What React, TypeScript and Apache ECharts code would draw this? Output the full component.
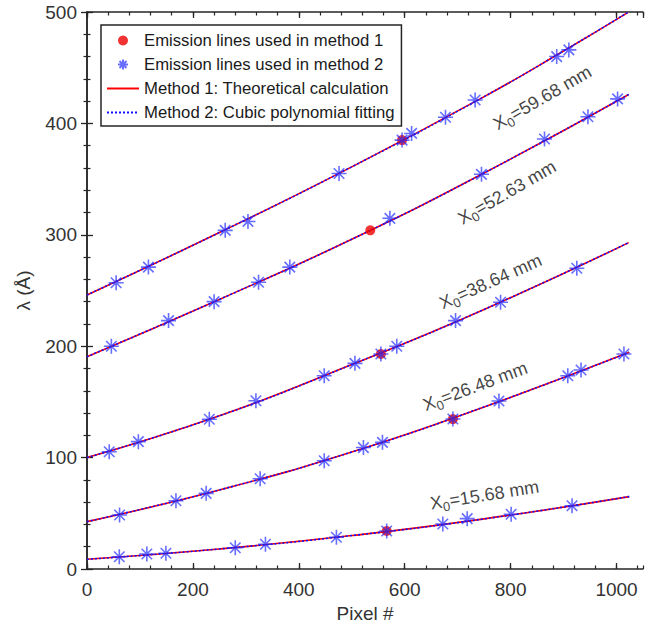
import React, { useEffect, useRef } from "react";
import * as echarts from "echarts";

// ---- data ----
const curveValues = ["59.68", "52.63", "38.64", "26.48", "15.68"];

// theoretical / fitted curves (pixel, wavelength)
const line59 = [[0, 246], [250, 302], [500, 361], [750, 424], [900, 465], [1021, 499.5]];
const line52 = [[0, 190.6], [250, 242], [500, 296], [750, 355.5], [1023, 426]];
const line38 = [[0, 100], [250, 137.5], [500, 183.5], [750, 233], [1023, 293]];
const line26 = [[0, 42.5], [250, 71], [500, 105], [750, 145.5], [1024, 194.5]];
const line15 = [[0, 8.7], [250, 18], [500, 30], [750, 45], [1024, 65]];

// emission lines used in method 2 (blue stars)
const stars59 = [[55, 257], [116, 271], [261, 304], [304, 312], [476, 355], [595, 385], [613, 391], [677, 405.5], [733, 421], [887, 460], [910, 466]];
const stars52 = [[46, 200], [154, 223], [240, 240], [324, 257.4], [383, 271], [572, 314.8], [745, 354.3], [864, 386], [946, 406], [1002, 422]];
const stars38 = [[42, 105.3], [97, 114.3], [231, 134.4], [319, 151], [448, 173.5], [506, 184.6], [555, 193], [585, 200], [696, 223], [781, 239.5], [925, 270]];
const stars26 = [[61.5, 48.5], [168, 61.3], [225, 67.9], [327, 81], [448, 97.2], [522, 109], [558, 113.7], [691, 134.6], [778, 150.8], [908, 173.5], [933, 178.6], [1014, 193]];
const stars15 = [[61, 11], [113, 13.5], [149, 14.1], [280, 19.1], [337, 22.2], [471, 28.5], [566, 34.1], [672, 40.4], [718, 45.2], [801, 49.1], [916, 56.8]];

// emission lines used in method 1 (red dots)
const method1Points = [[595, 385], [535, 304], [555, 193], [691, 134.6], [566, 34.1]];

// annotation anchor (data coords) and angle
const annotPos = [[860, 423], [793, 338], [762, 258], [733, 164], [751, 66.4]];
const annotAngle = [30, 30, 24, 20.5, 9];

const xTicks = ["0", "200", "400", "600", "800", "1000"];
const yTicks = ["0", "100", "200", "300", "400", "500"];

const NAME_M1 = "Emission lines used in method 1";
const NAME_M2 = "Emission lines used in method 2";
const NAME_L1 = "Method 1: Theoretical calculation";
const NAME_L2 = "Method 2: Cubic polynomial fitting";

const FONT = "'Liberation Sans', Arial, Helvetica, sans-serif";
const AX = "#262626";
const STAR = "path://M10,0L10,20M0,10L20,10M3,3L17,17M3,17L17,3";

export default function App() {
  const ref = useRef<HTMLDivElement>(null);
  useEffect(() => {
    if (!ref.current) return;
    const chart = echarts.init(ref.current, undefined, { renderer: "svg" });
    const lines = [line59, line52, line38, line26, line15];
    const stars = [stars59, stars52, stars38, stars26, stars15];

    const series: any[] = [];
    lines.forEach((l) => {
      series.push({
        type: "line", name: NAME_L1, data: l, smooth: true, symbol: "none", z: 2,
        xAxisIndex: 0, yAxisIndex: 0,
        lineStyle: { color: "#ff0000", width: 1.6 }, itemStyle: { color: "#ff0000" },
      });
    });
    lines.forEach((l) => {
      series.push({
        type: "line", name: NAME_L2, data: l, smooth: true, symbol: "none", z: 3,
        xAxisIndex: 0, yAxisIndex: 0,
        lineStyle: { color: "#1010ff", width: 1.6, type: [2, 2] }, itemStyle: { color: "#1010ff" },
      });
    });
    series.push({
      type: "scatter", name: NAME_M1, data: method1Points, symbol: "circle", symbolSize: 10, z: 4,
      itemStyle: { color: "#ee0000" },
    });
    stars.forEach((s) => {
      series.push({
        type: "scatter", name: NAME_M2, data: s, symbol: STAR, symbolSize: 15, z: 5,
        itemStyle: { color: "rgba(0,0,0,0)", borderColor: "rgba(30,40,255,0.85)", borderWidth: 1.6 },
      });
    });
    series.push({
      type: "scatter", name: "annot", symbolSize: 0, z: 6, silent: true,
      data: annotPos.map((p, i) => ({
        value: p,
        label: {
          show: true, position: "inside", rotate: annotAngle[i],
          formatter: "{a|X}{b|0}{a|=" + curveValues[i] + " mm}",
        },
      })),
      label: {
        show: true, position: "inside", color: "#111",
        rich: {
          a: { fontSize: 18, fontFamily: FONT, color: "#111" },
          b: { fontSize: 13, fontFamily: FONT, color: "#111", padding: [11, 0, 0, 0] },
        },
      },
    });

    const common = { min: 0, max: 1050, type: "value" as const, splitLine: { show: false } };
    chart.setOption({
      animation: false,
      backgroundColor: "#fff",
      textStyle: { fontFamily: FONT },
      grid: { left: 87, right: 13, top: 12, bottom: 66, containLabel: false },
      legend: {
        data: [
          { name: NAME_M1 },
          { name: NAME_M2 },
          { name: NAME_L1, itemStyle: { opacity: 0 } },
          { name: NAME_L2, itemStyle: { opacity: 0 } },
        ],
        orient: "vertical", left: 101, top: 25,
        itemWidth: 32, itemHeight: 10, itemGap: 7, padding: [7, 7, 5, 5],
        borderColor: AX, borderWidth: 1.5, backgroundColor: "#fff",
        textStyle: { fontSize: 16.7, color: "#1a1a1a", fontFamily: FONT, lineHeight: 16 },
        selectedMode: false,
      },
      xAxis: [
        {
          ...common, position: "bottom", interval: 200,
          name: "Pixel #", nameLocation: "middle", nameGap: 32,
          nameTextStyle: { fontSize: 19, color: "#333", fontFamily: FONT },
          axisLine: { show: true, lineStyle: { color: AX, width: 1.5 } },
          axisTick: { show: true, inside: true, length: 6, lineStyle: { color: AX, width: 1.3 } },
          axisLabel: {
            show: true, margin: 11, fontSize: 19, color: "#333", fontFamily: FONT, showMaxLabel: false,
            formatter: (v: number) => (xTicks.includes(String(v)) ? String(v) : ""),
          },
        },
        {
          ...common, position: "bottom", interval: 40,
          axisLine: { show: false },
          axisTick: { show: true, inside: true, length: 3.5, lineStyle: { color: AX, width: 1.2 } },
          axisLabel: { show: false },
        },
        {
          ...common, position: "top", interval: 200,
          axisLine: { show: true, lineStyle: { color: AX, width: 1.5 } },
          axisTick: { show: true, inside: true, length: 6, lineStyle: { color: AX, width: 1.3 } },
          axisLabel: { show: false },
        },
        {
          ...common, position: "top", interval: 40,
          axisLine: { show: false },
          axisTick: { show: true, inside: true, length: 3.5, lineStyle: { color: AX, width: 1.2 } },
          axisLabel: { show: false },
        },
      ],
      yAxis: [
        {
          type: "value", min: 0, max: 500, interval: 100, position: "left",
          name: "λ (Å)", nameLocation: "middle", nameGap: 54,
          nameTextStyle: { fontSize: 19, color: "#333", fontFamily: FONT },
          splitLine: { show: false },
          axisLine: { show: true, lineStyle: { color: AX, width: 1.5 } },
          axisTick: { show: true, inside: true, length: 6, lineStyle: { color: AX, width: 1.3 } },
          minorTick: { show: true, splitNumber: 5, length: 3.5, lineStyle: { color: AX, width: 1.2 } },
          axisLabel: {
            show: true, margin: 10, fontSize: 19, color: "#333", fontFamily: FONT,
            formatter: (v: number) => (yTicks.includes(String(v)) ? String(v) : ""),
          },
        },
        {
          type: "value", min: 0, max: 500, interval: 100, position: "right",
          splitLine: { show: false },
          axisLine: { show: true, lineStyle: { color: AX, width: 1.5 } },
          axisTick: { show: true, inside: true, length: 6, lineStyle: { color: AX, width: 1.3 } },
          minorTick: { show: true, splitNumber: 5, length: 3.5, lineStyle: { color: AX, width: 1.2 } },
          axisLabel: { show: false },
        },
      ],
      series,
    });
    return () => chart.dispose();
  }, []);
  return (
    <div
      ref={ref}
      style={{ position: "fixed", left: 0, top: 0, width: 656, height: 635, background: "#fff" }}
    />
  );
}
